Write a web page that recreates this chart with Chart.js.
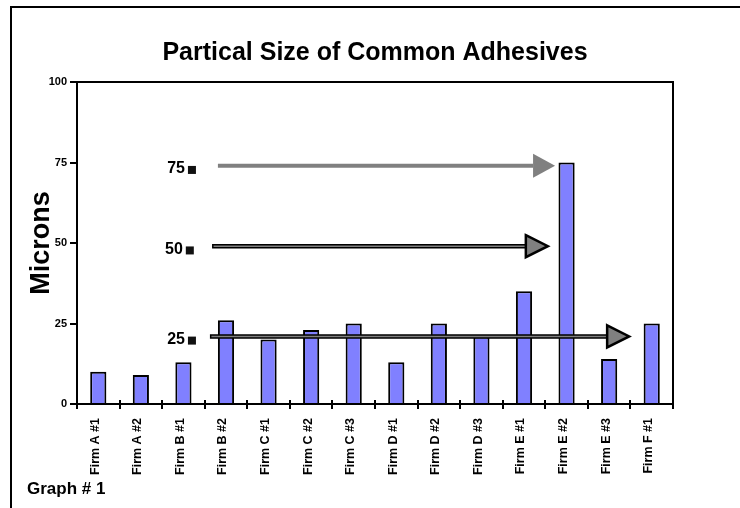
<!DOCTYPE html>
<html>
<head>
<meta charset="utf-8">
<title>Partical Size of Common Adhesives</title>
<script src="https://cdn.jsdelivr.net/npm/chart.js@4.4.1/dist/chart.umd.min.js"></script>
<style>
  html, body { margin: 0; padding: 0; background: #fff; }
  canvas { display: block; }
</style>
</head>
<body>
<canvas id="adhesiveChart" width="740" height="508"></canvas>
<script>
// ------------------ Data ------------------
const firms = [
    'Firm A #1', 'Firm A #2', 'Firm B #1', 'Firm B #2', 'Firm C #1',
    'Firm C #2', 'Firm C #3', 'Firm D #1', 'Firm D #2', 'Firm D #3',
    'Firm E #1', 'Firm E #2', 'Firm E #3', 'Firm F #1'
];
const microns = [10, 9, 13, 26, 20, 23, 25, 13, 25, 21, 35, 75, 14, 25];
const yTicks = [0, 25, 50, 75, 100];

// reference arrows (level in microns, start and tip as category positions)
const arrowLevels = [74, 49, 21];
const arrowStarts = [2.81, 2.69, 2.64];
const arrowTips = [10.73, 10.56, 12.47];
const arrowOutlined = [false, true, true];

// size markers drawn left of the arrows
const markerLabels = ['75', '50', '25'];
const markerLevels = [73, 48, 20];
const markerPos = [2.2, 2.15, 2.2];

const FONT = "'Liberation Sans', Arial, Helvetica, sans-serif";

// ------------------ Drawing helpers ------------------
function drawArrow(ctx, x0, x1, y, outlined) {
    const headLen = 22;
    const headHalf = outlined ? 11 : 12;
    const shaft = outlined ? 3 : 4;
    ctx.save();
    ctx.fillStyle = '#808080';
    ctx.strokeStyle = '#000';
    ctx.beginPath();
    ctx.rect(x0, y - shaft / 2, x1 - headLen - x0, shaft);
    ctx.fill();
    if (outlined) {
        ctx.lineWidth = 1.5;
        ctx.stroke();
    }
    ctx.beginPath();
    ctx.moveTo(x1 - headLen, y - headHalf);
    ctx.lineTo(x1, y);
    ctx.lineTo(x1 - headLen, y + headHalf);
    ctx.closePath();
    ctx.fill();
    if (outlined) {
        ctx.lineWidth = 2.5;
        ctx.lineJoin = 'miter';
        ctx.stroke();
    }
    ctx.restore();
}

const decorations = {
    id: 'decorations',
    beforeDraw(chart) {
        const ctx = chart.ctx;
        ctx.save();
        ctx.fillStyle = '#fff';
        ctx.fillRect(0, 0, chart.width, chart.height);
        // outer frame
        ctx.strokeStyle = '#000';
        ctx.lineWidth = 2;
        ctx.beginPath();
        ctx.moveTo(11, chart.height);
        ctx.lineTo(11, 7);
        ctx.lineTo(chart.width, 7);
        ctx.stroke();
        // footer caption
        ctx.fillStyle = '#000';
        ctx.font = 'bold 17px ' + FONT;
        ctx.textBaseline = 'alphabetic';
        ctx.fillText('Graph # 1', 27, 494);
        ctx.restore();
    },
    afterDatasetsDraw(chart) {
        const ctx = chart.ctx;
        const x = chart.scales.x;
        const y = chart.scales.y;
        const area = chart.chartArea;

        arrowLevels.forEach(function(level, i) {
            drawArrow(ctx, x.getPixelForValue(arrowStarts[i]), x.getPixelForValue(arrowTips[i]),
                y.getPixelForValue(level), arrowOutlined[i]);
        });

        ctx.save();
        ctx.font = 'bold 16px ' + FONT;
        ctx.textAlign = 'right';
        ctx.textBaseline = 'middle';
        markerLabels.forEach(function(label, i) {
            const mx = x.getPixelForValue(markerPos[i]);
            const my = y.getPixelForValue(markerLevels[i]);
            ctx.fillStyle = '#111';
            ctx.fillRect(mx - 4, my - 3, 8, 8);
            ctx.fillStyle = '#000';
            ctx.fillText(label, mx - 7, my);
        });

        // top and right edges of the plot box
        ctx.strokeStyle = '#000';
        ctx.lineWidth = 2;
        ctx.beginPath();
        ctx.moveTo(area.left, area.top);
        ctx.lineTo(area.right, area.top);
        ctx.lineTo(area.right, area.bottom);
        ctx.stroke();

        // category ticks poke a little above the axis line too
        ctx.beginPath();
        for (let i = 0; i <= firms.length; i++) {
            const tx = Math.round(x.getPixelForValue(i - 0.5));
            ctx.moveTo(tx, area.bottom);
            ctx.lineTo(tx, area.bottom - 4);
        }
        ctx.stroke();
        ctx.restore();
    }
};

// ------------------ Chart ------------------
const ctx = document.getElementById('adhesiveChart').getContext('2d');
new Chart(ctx, {
    type: 'bar',
    data: {
        labels: firms,
        datasets: [{
            label: 'Microns',
            data: microns,
            backgroundColor: '#8080ff',
            borderColor: '#000',
            borderWidth: 2,
            barPercentage: 0.38,
            categoryPercentage: 1
        }]
    },
    options: {
        responsive: false,
        animation: false,
        devicePixelRatio: 1,
        layout: { padding: { left: 0, top: 0, right: 67, bottom: 0 } },
        plugins: {
            legend: { display: false },
            tooltip: { enabled: false },
            title: {
                display: true,
                text: 'Partical Size of Common Adhesives',
                color: '#000',
                fullSize: false,
                font: { family: FONT, size: 25, weight: 'bold' },
                padding: { top: 38, bottom: 14 }
            }
        },
        scales: {
            x: {
                afterFit: function(scale) { scale.height = 104; },
                grid: {
                    drawOnChartArea: false,
                    color: '#000',
                    lineWidth: 2,
                    tickLength: 5
                },
                border: { color: '#000', width: 2 },
                ticks: {
                    autoSkip: false,
                    minRotation: 90,
                    maxRotation: 90,
                    padding: 9,
                    labelOffset: -3,
                    color: '#000',
                    font: { family: FONT, size: 12.5, weight: 'bold' }
                }
            },
            y: {
                min: 0,
                max: 100,
                afterFit: function(scale) { scale.width = 77; },
                afterBuildTicks: function(scale) {
                    scale.ticks = yTicks.map(function(v) { return { value: v }; });
                },
                grid: {
                    drawOnChartArea: false,
                    color: '#000',
                    lineWidth: 2,
                    tickLength: 7
                },
                border: { color: '#000', width: 2 },
                ticks: {
                    padding: 3,
                    color: '#000',
                    font: { family: FONT, size: 11, weight: 'bold' }
                },
                title: {
                    display: true,
                    text: 'Microns',
                    color: '#000',
                    font: { family: FONT, size: 27, weight: 'bold' },
                    padding: { top: 25, bottom: 0 }
                }
            }
        }
    },
    plugins: [decorations]
});
</script>
</body>
</html>
